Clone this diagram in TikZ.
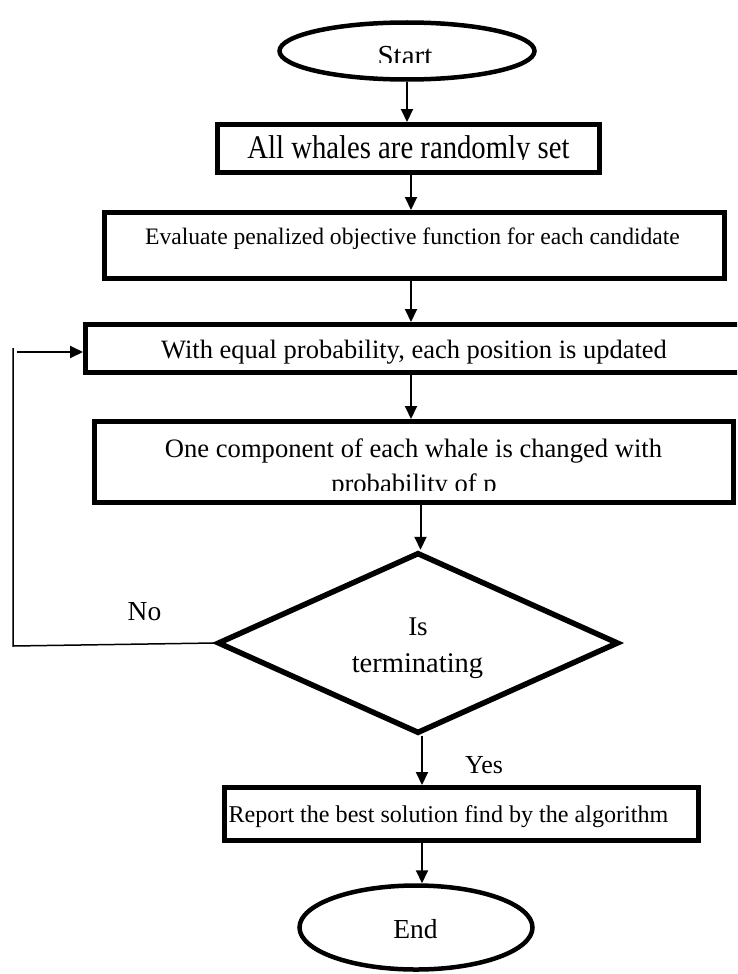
\documentclass[tikz,border=0pt]{standalone}
\usepackage{fontspec}
\setmainfont{Liberation Serif}
\newfontfamily\tnr{Liberation Serif}
\usepackage{graphicx}
\usetikzlibrary{arrows.meta,shapes.geometric}

\tikzset{
  boxnode/.style={draw, line width=5pt, rectangle, inner sep=0pt},
  ovalnode/.style={draw, line width=4.5pt, ellipse, inner sep=0pt},
  decision/.style={draw, line width=5.5pt, diamond, inner sep=0pt},
  flow/.style={line width=2pt, -{Triangle[length=13pt,width=12pt]}},
  backline/.style={line width=1.5pt},
  lbl/.style={inner sep=0pt, anchor=base},
}
\newcommand\fsz[1]{\tnr\fontsize{#1pt}{#1pt}\selectfont}

\begin{document}
\begin{tikzpicture}[x=1pt,y=-1pt]
\useasboundingbox (0,0) rectangle (737,974);
\clip (0,0) rectangle (737,974);
\fill[white] (0,0) rectangle (737,974);

% outlines of the flow chart
\node[ovalnode, minimum width=255pt, minimum height=57pt] (start) at (407,51) {};
\node[boxnode, minimum width=382pt, minimum height=48pt] (init) at (408.5,148.5) {};
\node[boxnode, minimum width=620pt, minimum height=66pt] (eval) at (414.5,245.5) {};
\node[boxnode, minimum width=684.5pt, minimum height=48pt] (update) at (427.75,348.5) {};
\node[boxnode, minimum width=639pt, minimum height=81pt] (change) at (414,462) {};
\node[decision, minimum width=401pt, minimum height=181pt] (test) at (418,643) {};
\node[boxnode, minimum width=474pt, minimum height=53pt] (report) at (461.5,814) {};
\node[ovalnode, minimum width=233pt, minimum height=84pt] (end) at (416,927.5) {};

% texts (some lines are cut just under their baseline)
\begin{scope}
  \clip (280,20) rectangle (535,62.5);
  \node[lbl, font=\fsz{29}] (tstart) at (405,66) {Start};
\end{scope}
\begin{scope}
  \clip (220,125) rectangle (598,159);
  \node[lbl, font=\fsz{33}] (tinit) at (408.5,158) {\scalebox{0.87}[1]{All whales are randomly set}};
\end{scope}
\node[lbl, font=\fsz{23.6}] (teval) at (412.5,244) {Evaluate penalized objective function for each candidate};
\node[lbl, font=\fsz{26.5}] (tupdate) at (414,358) {With equal probability, each position is updated};
\node[lbl, font=\fsz{26.6}] (tchange1) at (413.5,457) {One component of each whale is changed with};
\begin{scope}
  \clip (100,465) rectangle (730,490);
  \node[lbl, font=\fsz{26.6}] (tchange2) at (414,492.5) {probability of p};
\end{scope}
\node[lbl, font=\fsz{27}] (tis) at (418,635) {Is};
\node[lbl, font=\fsz{28.5}] (tterm) at (417.5,672) {terminating};
\node[lbl, font=\fsz{24.1}] (treport) at (448.5,822) {Report the best solution find by the algorithm};
\node[lbl, font=\fsz{27.5}] (tend) at (415.5,938) {End};
\node[lbl, font=\fsz{27.5}] (tno) at (144.5,620.5) {No};
\node[lbl, font=\fsz{26}] (tyes) at (484,773) {Yes};

% connectors
\coordinate (c1) at (411,0);
\coordinate (c2) at (420.5,0);
\coordinate (c3) at (422,0);
\draw[flow] (start.south) -- (start.south |- init.north);
\draw[flow] (init.south -| c1) -- (eval.north -| c1);
\draw[flow] (eval.south -| c1) -- (update.north -| c1);
\draw[flow] (update.south -| c1) -- (change.north -| c1);
\draw[flow] (change.south -| c2) -- (test.north -| c2);
\draw[flow] (test.south -| c3) -- (report.north -| c3);
\draw[flow] (report.south -| c3) -- (end.north -| c3);

% loop back when the run is not finished
\coordinate (k1) at (13,646);
\coordinate (k2) at (13,348);
\coordinate (k3) at (17,352);
\draw[backline] (test.west) -- (k1) -- (k2);
\draw[flow] (k3) -- (update.west |- k3);
\end{tikzpicture}
\end{document}
